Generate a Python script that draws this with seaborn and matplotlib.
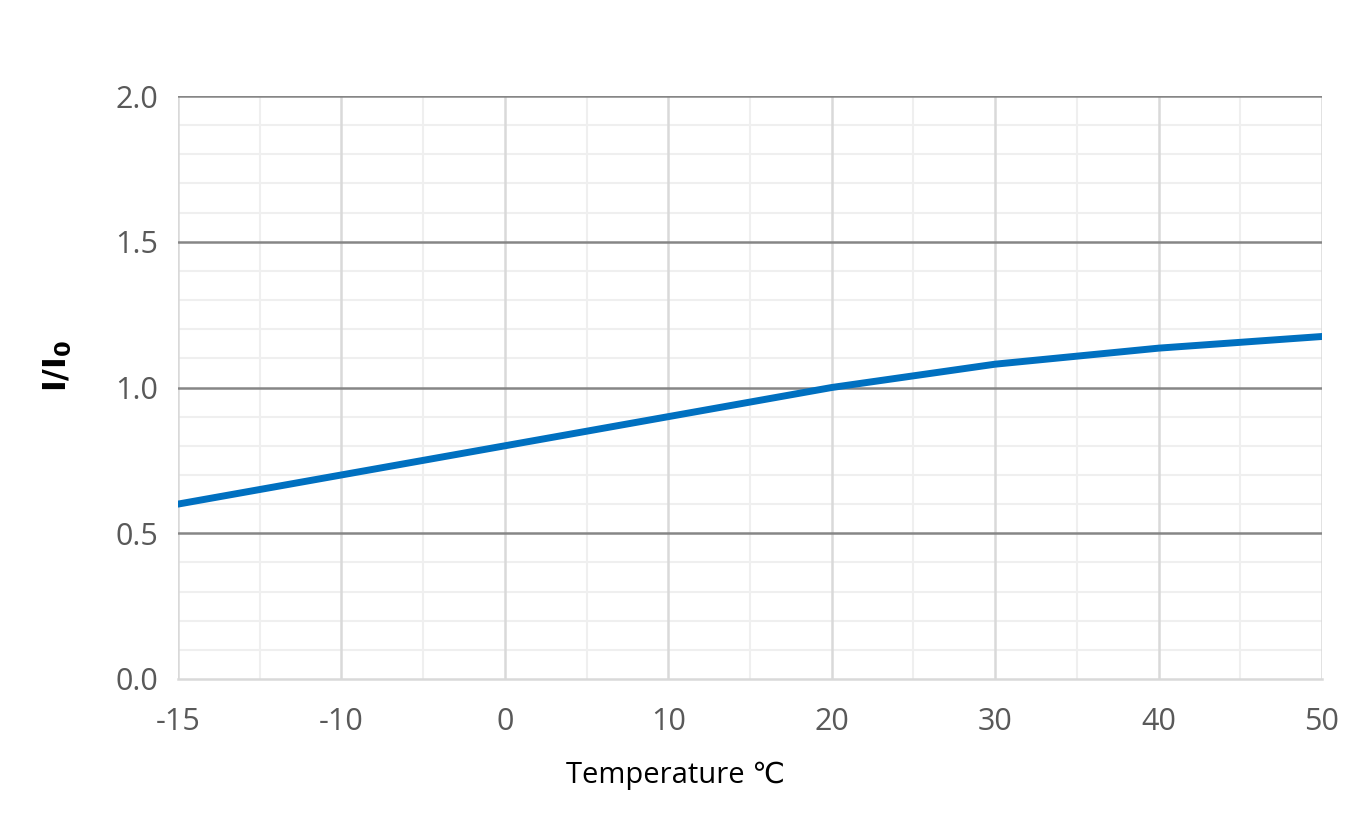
import numpy as np
import pandas as pd
import seaborn as sns
import matplotlib.pyplot as plt
from matplotlib.ticker import MultipleLocator

# Data (categorical temperature axis)
temperatures = ['-15', '-10', '0', '10', '20', '30', '40', '50']
ratio = [0.60, 0.70, 0.80, 0.90, 1.00, 1.08, 1.135, 1.175]

df = pd.DataFrame({'temp': temperatures, 'ratio': ratio})

sns.set_theme(style='white')
plt.rcParams['font.family'] = ['Open Sans', 'DejaVu Sans', 'Noto Sans CJK JP']

fig = plt.figure(figsize=(13.5, 8.15), dpi=100)
ax = fig.add_axes([178 / 1350, 1 - 679 / 815, (1322 - 178) / 1350, (679 - 96) / 815])

# grid first so the line sits on top
n = len(temperatures)
for xm in np.arange(0.5, n - 1, 1.0):
    ax.axvline(xm, color='#efefef', lw=1.5, zorder=0)
for ym in np.arange(0.1, 2.0, 0.1):
    if round(ym * 10) % 5 != 0:
        ax.axhline(ym, color='#efefef', lw=1.5, zorder=0)
for xm in range(n):
    ax.axvline(xm, color='#d9d9d9', lw=1.8, zorder=1)
for ym in [0.5, 1.0, 1.5, 2.0]:
    ax.axhline(ym, color='#868686', lw=1.8, zorder=1)

sns.lineplot(data=df, x='temp', y='ratio', sort=False, color='#0070c0',
             linewidth=5, ax=ax, zorder=3)

ax.set_xlim(0, n - 1)
ax.set_ylim(0, 2.0)
ax.yaxis.set_major_locator(MultipleLocator(0.5))
ax.yaxis.set_major_formatter(plt.FormatStrFormatter('%.1f'))

for side in ['top', 'right', 'left']:
    ax.spines[side].set_visible(False)
ax.spines['bottom'].set_color('#d9d9d9')
ax.spines['bottom'].set_linewidth(1.8)

ax.tick_params(axis='both', length=0, labelsize=22, colors='#595959', pad=14)
ax.tick_params(axis='x', pad=20)

ax.set_xlabel('Temperature \u2103', fontsize=21, color='black',
              family=['Open Sans', 'DejaVu Sans', 'Noto Sans CJK JP'])
ax.xaxis.set_label_coords((676 - 178) / 1144, -(775 - 679) / 583, transform=ax.transAxes)
ax.xaxis.label.set_va('center')
ax.set_ylabel(r'$\mathbf{I/I_0}$', fontsize=23, color='black')
ax.yaxis.set_label_coords(-(178 - 58) / 1144, (679 - 366) / 583, transform=ax.transAxes)
ax.yaxis.label.set_va('center')

fig.savefig('out.png', dpi=100)
